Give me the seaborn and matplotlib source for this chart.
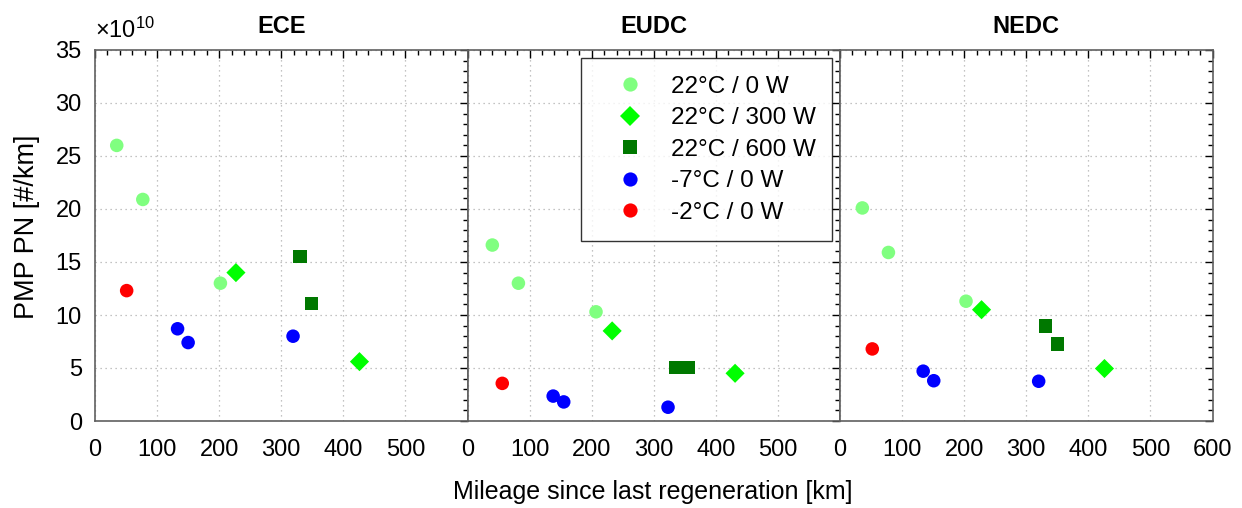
import numpy as np
import pandas as pd
import matplotlib
matplotlib.use("Agg")
import matplotlib.pyplot as plt
from matplotlib.ticker import MultipleLocator
import seaborn as sns

sns.set_theme(style="white")
plt.rcParams['font.family'] = ['Liberation Sans', 'DejaVu Sans']
plt.rcParams['text.color'] = 'black'
plt.rcParams['axes.labelcolor'] = 'black'
plt.rcParams['xtick.color'] = 'black'
plt.rcParams['ytick.color'] = 'black'
plt.rcParams['mathtext.fontset'] = 'custom'
plt.rcParams['mathtext.rm'] = 'Liberation Sans'
plt.rcParams['mathtext.it'] = 'Liberation Sans'

cycles = ["ECE", "EUDC", "NEDC"]
groups = ["22°C / 0 W", "22°C / 300 W", "22°C / 600 W", "-7°C / 0 W", "-2°C / 0 W"]
colors = ["#80FF80", "#00FF00", "#007800", "#0000FF", "#FF0000"]
markers = ["o", "D", "s", "o", "o"]

# mileage [km] and PN [x1e10 #/km] per group, per cycle
ece_km = {"22°C / 0 W": [35, 77, 202], "22°C / 300 W": [227, 426], "22°C / 600 W": [330, 349],
          "-7°C / 0 W": [133, 150, 319], "-2°C / 0 W": [51]}
ece_pn = {"22°C / 0 W": [26.0, 20.9, 13.0], "22°C / 300 W": [14.0, 5.6], "22°C / 600 W": [15.5, 11.1],
          "-7°C / 0 W": [8.7, 7.4, 8.0], "-2°C / 0 W": [12.3]}
eudc_km = {"22°C / 0 W": [40, 82, 207], "22°C / 300 W": [233, 431], "22°C / 600 W": [335, 355],
           "-7°C / 0 W": [138, 155, 323], "-2°C / 0 W": [56]}
eudc_pn = {"22°C / 0 W": [16.6, 13.0, 10.3], "22°C / 300 W": [8.5, 4.5], "22°C / 600 W": [5.05, 5.05],
           "-7°C / 0 W": [2.35, 1.8, 1.3], "-2°C / 0 W": [3.55]}
nedc_km = {"22°C / 0 W": [36, 78, 203], "22°C / 300 W": [228, 426], "22°C / 600 W": [331, 350],
           "-7°C / 0 W": [134, 151, 320], "-2°C / 0 W": [52]}
nedc_pn = {"22°C / 0 W": [20.1, 15.9, 11.3], "22°C / 300 W": [10.5, 4.95], "22°C / 600 W": [8.95, 7.25],
           "-7°C / 0 W": [4.7, 3.8, 3.75], "-2°C / 0 W": [6.8]}

data_km = {"ECE": ece_km, "EUDC": eudc_km, "NEDC": nedc_km}
data_pn = {"ECE": ece_pn, "EUDC": eudc_pn, "NEDC": nedc_pn}

rows = []
for c in cycles:
    for g in groups:
        for k, p in zip(data_km[c][g], data_pn[c][g]):
            rows.append({"cycle": c, "group": g, "km": k, "pn": p})
df = pd.DataFrame(rows)

palette = dict(zip(groups, colors))
mk = dict(zip(groups, markers))

fig = plt.figure(figsize=(12.42, 5.08), dpi=100)
W = 1242.0
H = 508.0
left0 = 95 / W
pw = 372.5 / W
bottom = 1 - 421 / H
height = 371 / H

spine_col = "#606060"
axes = []
for i, c in enumerate(cycles):
    ax = fig.add_axes([left0 + i * pw, bottom, pw, height])
    axes.append(ax)
    sub = df[df.cycle == c]
    sns.scatterplot(data=sub, x="km", y="pn", hue="group", style="group",
                    hue_order=groups, style_order=groups, palette=palette, markers=mk,
                    s=95, linewidth=0, ax=ax, legend=(i == 1), zorder=3)
    ax.set_xlim(0, 600)
    ax.set_ylim(0, 35)
    ax.xaxis.set_major_locator(MultipleLocator(100))
    ax.xaxis.set_minor_locator(MultipleLocator(20))
    ax.yaxis.set_major_locator(MultipleLocator(5))
    ax.yaxis.set_minor_locator(MultipleLocator(1))
    ax.grid(True, which="major", linestyle=(0, (1, 3)), color="#b0b0b0", linewidth=0.9)
    ax.tick_params(which="both", direction="in", top=True, right=True, colors="black",
                   labelsize=17, width=1)
    ax.tick_params(which="major", length=6)
    ax.tick_params(which="minor", length=3.5)
    for sp in ax.spines.values():
        sp.set_color(spine_col)
        sp.set_linewidth(1.2)
    ax.set_xlabel("")
    ax.set_ylabel("")
    xt = list(range(0, 700, 100))
    ax.set_xticks(xt)
    if i < 2:
        ax.set_xticklabels([str(v) if v < 600 else "" for v in xt])
    else:
        ax.set_xticklabels([str(v) for v in xt])
    ax.tick_params(axis="x", pad=13)
    ax.tick_params(axis="y", pad=9.5)
    if i > 0:
        ax.set_yticklabels([])
    ax.set_title(c, fontsize=17, fontweight="bold", pad=12, color="black")

leg = axes[1].get_legend()
handles, labels = axes[1].get_legend_handles_labels()
leg.remove()
lg = axes[1].legend(handles, labels, loc="upper left", bbox_to_anchor=(0.306, 0.493, 0.672, 0.485),
                    mode="expand", fontsize=17.5, frameon=True, fancybox=False, edgecolor="black",
                    handletextpad=0.42, borderpad=0.72, labelspacing=0.39, markerscale=1.05,
                    handlelength=2.54, borderaxespad=0)
lg.get_frame().set_linewidth(1.0)
lg.set_zorder(5)

axes[0].text(0.0, 1.02, r"$\times10^{10}$", transform=axes[0].transAxes, fontsize=17, ha="left", va="bottom")
fig.text(27 / W, 1 - 227 / H, "PMP PN [#/km]", rotation=90, fontsize=19.5, ha="center", va="center")
fig.text(653 / W, 1 - 492 / H, "Mileage since last regeneration [km]", fontsize=18, ha="center", va="center")

fig.savefig("out.png", dpi=100)
